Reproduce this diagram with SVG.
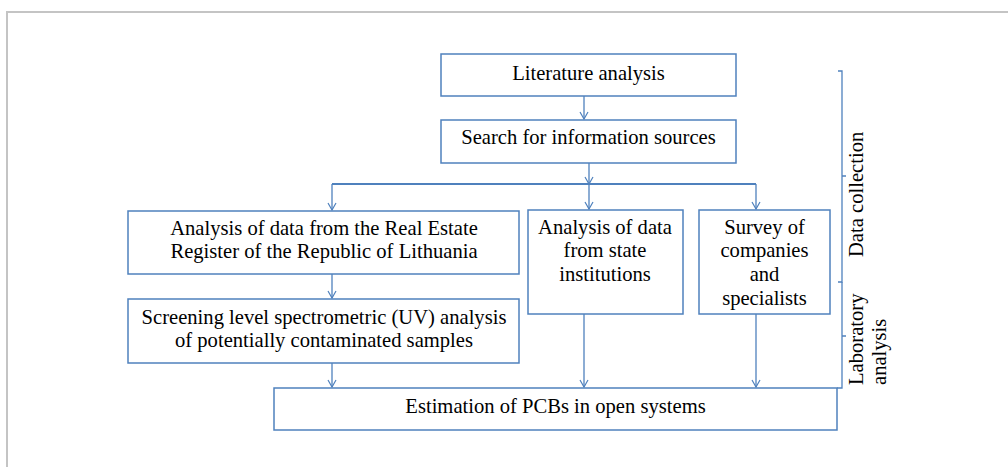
<svg xmlns="http://www.w3.org/2000/svg" width="1008" height="467" viewBox="0 0 1008 467">
<defs>
<marker id="arr" markerWidth="10" markerHeight="10" refX="8" refY="5" orient="auto" markerUnits="userSpaceOnUse">
<path d="M1,1 L8,5 L1,9" fill="none" stroke="#4f81bd" stroke-width="1.2"/>
</marker>
<style>
.box{fill:#fff;stroke:#4f81bd;stroke-width:1.5}
.t{font-family:"Liberation Serif","Times New Roman",serif;font-size:20.6px;fill:#000;text-anchor:middle}
.r{font-family:"Liberation Serif","Times New Roman",serif;font-size:20.6px;fill:#000;text-anchor:start}
.c{fill:none;stroke:#4f81bd;stroke-width:1.3}
.frame{fill:none;stroke:#c4c4c4;stroke-width:2}
</style>
</defs>
<rect width="1008" height="467" fill="#fff"/>
<path class="frame" d="M7,467 V12 H1008"/>

<g id="connectors">
<line class="c" x1="584" y1="96" x2="584" y2="119" marker-end="url(#arr)"/>
<line class="c" x1="589" y1="163" x2="589" y2="184" marker-end="url(#arr)"/>
<path d="M332,184 H756" fill="none" stroke="#4f81bd" stroke-width="2"/>
<line class="c" x1="332" y1="184" x2="332" y2="210" marker-end="url(#arr)"/>
<line class="c" x1="589" y1="184" x2="589" y2="209" marker-end="url(#arr)"/>
<line class="c" x1="756" y1="184" x2="756" y2="209" marker-end="url(#arr)"/>
<line class="c" x1="332" y1="274" x2="332" y2="298" marker-end="url(#arr)"/>
<line class="c" x1="332" y1="363" x2="332" y2="387" marker-end="url(#arr)"/>
<line class="c" x1="584" y1="314" x2="584" y2="387" marker-end="url(#arr)"/>
<line class="c" x1="756" y1="314" x2="756" y2="387" marker-end="url(#arr)"/>
</g>

<g id="n-literature">
<rect class="box" x="441" y="54" width="295" height="42"/>
<text class="t" x="588.5" y="80">Literature analysis</text>
</g>
<g id="n-search">
<rect class="box" x="441" y="120" width="295" height="43"/>
<text class="t" x="588.5" y="144">Search for information sources</text>
</g>
<g id="n-register">
<rect class="box" x="128" y="211" width="391" height="63"/>
<text class="t" x="324" y="235">Analysis of data from the Real Estate</text>
<text class="t" x="324" y="258">Register of the Republic of Lithuania</text>
</g>
<g id="n-screening">
<rect class="box" x="128" y="299" width="391" height="64"/>
<text class="t" x="324" y="324">Screening level spectrometric (UV) analysis</text>
<text class="t" x="324" y="347">of potentially contaminated samples</text>
</g>
<g id="n-state">
<rect class="box" x="528" y="210" width="155" height="104"/>
<text class="t" x="605" y="234">Analysis of data</text>
<text class="t" x="605" y="257">from state</text>
<text class="t" x="605" y="281">institutions</text>
</g>
<g id="n-survey">
<rect class="box" x="699" y="210" width="131" height="104"/>
<text class="t" x="764.5" y="234">Survey of</text>
<text class="t" x="764.5" y="257">companies</text>
<text class="t" x="764.5" y="281">and</text>
<text class="t" x="764.5" y="305">specialists</text>
</g>
<g id="n-estimation">
<rect class="box" x="274" y="388" width="563" height="42"/>
<text class="t" x="555.5" y="413">Estimation of PCBs in open systems</text>
</g>

<g id="brackets">
<path class="c" d="M838,71 H842 V282 H838 M842,176 H846"/>
<path class="c" d="M842,282 V388 H837 M842,336 H846"/>
<text class="r" transform="translate(863,257) rotate(-90)">Data collection</text>
<text class="r" transform="translate(863,385) rotate(-90)">Laboratory</text>
<text class="r" transform="translate(886,385) rotate(-90)">analysis</text>
</g>
</svg>
